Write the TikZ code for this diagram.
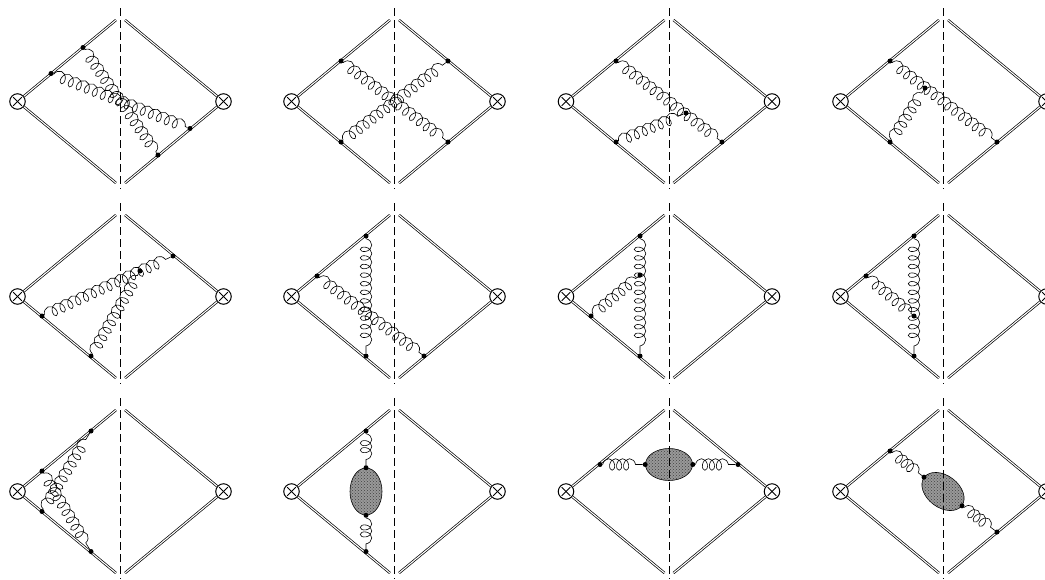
\documentclass[tikz,border=0pt]{standalone}
\usepackage{tikz}
\usetikzlibrary{decorations.pathmorphing, patterns, shapes.geometric}

\begin{document}
\begin{tikzpicture}[
    x=1pt, y=-1pt,
    wilson/.style={draw=black, double=white, line width=0.7pt, double distance=1.1pt},
    cut/.style={draw=black, line width=0.7pt, dash pattern=on 8pt off 4pt},
    insertion/.style={draw, circle, line width=1pt, fill=white, inner sep=0pt, minimum size=15.5pt,
        path picture={\draw[line width=1pt] (path picture bounding box.north west) ++(3.4pt,-3.4pt) -- ++(8.7pt,-8.7pt);
            \draw[line width=1pt] (path picture bounding box.north east) ++(-3.4pt,-3.4pt) -- ++(-8.7pt,-8.7pt);}},
    vtx/.style={circle, fill=black, inner sep=0pt, minimum size=5pt},
    gluon/.style={draw=black, line width=0.6pt, decorate,
        decoration={coil, amplitude=5.8pt, segment length=8.6pt, aspect=0.72}},
    short gluon/.style={gluon, decoration={coil, amplitude=5.8pt, segment length=7pt, aspect=0.72}},
    blob/.style={draw=black, ellipse, line width=0.6pt, inner sep=0pt, fill=black!40,
        postaction={pattern=crosshatch dots, pattern color=black!75}},
]
    \useasboundingbox (0,0) rectangle (1045,579);

    % Skeleton of every diagram
    \foreach \name/\cx/\cy in {a/120.5/101.5, b/394.5/101.5, c/669/101.5, d/943.5/101.5,
                               e/120.5/296.5, f/394.5/296.5, g/669/296.5, h/943.5/296.5,
                               i/120.5/491.5, j/394.5/491.5, k/669/491.5, l/943.5/491.5} {
        \node[insertion] (\name-l) at (\cx-103,\cy) {};
        \node[insertion] (\name-r) at (\cx+103,\cy) {};
        \coordinate (\name-tl) at (\cx-4.5,\cy-81.5);
        \coordinate (\name-tr) at (\cx+4.5,\cy-81.5);
        \coordinate (\name-bl) at (\cx-4.5,\cy+81.5);
        \coordinate (\name-br) at (\cx+4.5,\cy+81.5);
        \coordinate (\name-ct) at (\cx,\cy-93.5);
        \coordinate (\name-cb) at (\cx,\cy+87.5);
        \draw[wilson] (\name-l) -- (\name-tl);
        \draw[wilson] (\name-l) -- (\name-bl);
        \draw[wilson] (\name-r) -- (\name-tr);
        \draw[wilson] (\name-r) -- (\name-br);
    }

    % Row 1
    \node[vtx] (a1) at (83,47.5) {};
    \node[vtx] (a2) at (51,73.5) {};
    \node[vtx] (a3) at (190,128.5) {};
    \node[vtx] (a4) at (158,155) {};
    \draw[gluon] (a1) -- (a4);
    \draw[gluon] (a2) -- (a3);

    \node[vtx] (b1) at (341,61) {};
    \node[vtx] (b2) at (341,142) {};
    \node[vtx] (b3) at (448,61) {};
    \node[vtx] (b4) at (448,142) {};
    \draw[gluon] (b1) -- (b4);
    \draw[gluon] (b2) -- (b3);

    \node[vtx] (c1) at (616,61) {};
    \node[vtx] (c2) at (616,142) {};
    \node[vtx] (c3) at (722,142) {};
    \node[vtx] (c4) at (686,113) {};
    \draw[gluon] (c1) -- (c3);
    \draw[gluon] (c2) -- (c4);

    \node[vtx] (d1) at (890,61) {};
    \node[vtx] (d2) at (890,142) {};
    \node[vtx] (d3) at (997,142) {};
    \node[vtx] (d4) at (925,88) {};
    \draw[gluon] (d1) -- (d3);
    \draw[gluon] (d2) -- (d4);

    % Row 2
    \node[vtx] (e1) at (173,256) {};
    \node[vtx] (e2) at (42,316) {};
    \node[vtx] (e3) at (91,356) {};
    \node[vtx] (e4) at (140,271) {};
    \draw[gluon] (e2) -- (e1);
    \draw[gluon] (e3) -- (e4);

    \node[vtx] (f1) at (366,236) {};
    \node[vtx] (f2) at (366,356) {};
    \node[vtx] (f3) at (317,276) {};
    \node[vtx] (f4) at (424,356) {};
    \draw[gluon] (f1) -- (f2);
    \draw[gluon] (f3) -- (f4);

    \node[vtx] (g1) at (640,236) {};
    \node[vtx] (g2) at (640,356) {};
    \node[vtx] (g3) at (591,316) {};
    \node[vtx] (g4) at (640,275) {};
    \draw[gluon] (g1) -- (g2);
    \draw[gluon] (g3) -- (g4);

    \node[vtx] (h1) at (914,236) {};
    \node[vtx] (h2) at (914,356) {};
    \node[vtx] (h3) at (866,276) {};
    \node[vtx] (h4) at (914,316) {};
    \draw[gluon] (h1) -- (h2);
    \draw[gluon] (h3) -- (h4);

    % Row 3
    \node[vtx] (i1) at (91,431) {};
    \node[vtx] (i2) at (91,551.5) {};
    \node[vtx] (i3) at (42,471) {};
    \node[vtx] (i4) at (42,511.5) {};
    \draw[gluon] (i3) -- (i2);
    \draw[gluon] (i4) -- (i1);

    % Self-energy blobs
    \node[blob, minimum width=32pt, minimum height=47pt] (j-blob) at (366,491.5) {};
    \node[vtx] (j1) at (366,431) {};
    \node[vtx] (j2) at (j-blob.north) {};
    \node[vtx] (j3) at (j-blob.south) {};
    \node[vtx] (j4) at (366,551.5) {};
    \draw[short gluon] (j1) -- (j2);
    \draw[short gluon] (j3) -- (j4);

    \node[blob, minimum width=47pt, minimum height=32pt] (k-blob) at (669,464.5) {};
    \node[vtx] (k1) at (600,464.5) {};
    \node[vtx] (k2) at (k-blob.west) {};
    \node[vtx] (k3) at (k-blob.east) {};
    \node[vtx] (k4) at (738,464.5) {};
    \draw[short gluon] (k1) -- (k2);
    \draw[short gluon] (k3) -- (k4);

    \node[blob, minimum width=47pt, minimum height=32pt, rotate=-37] (l-blob) at (943,491.5) {};
    \node[vtx] (l1) at (890,451) {};
    \node[vtx] (l2) at (l-blob.west) {};
    \node[vtx] (l3) at (l-blob.east) {};
    \node[vtx] (l4) at (997,532) {};
    \draw[short gluon] (l1) -- (l2);
    \draw[short gluon] (l3) -- (l4);

    % Cuts
    \foreach \name in {a,b,c,d,e,f,g,h,i,j,k,l} {
        \draw[cut] (\name-ct) -- (\name-cb);
    }
\end{tikzpicture}
\end{document}
